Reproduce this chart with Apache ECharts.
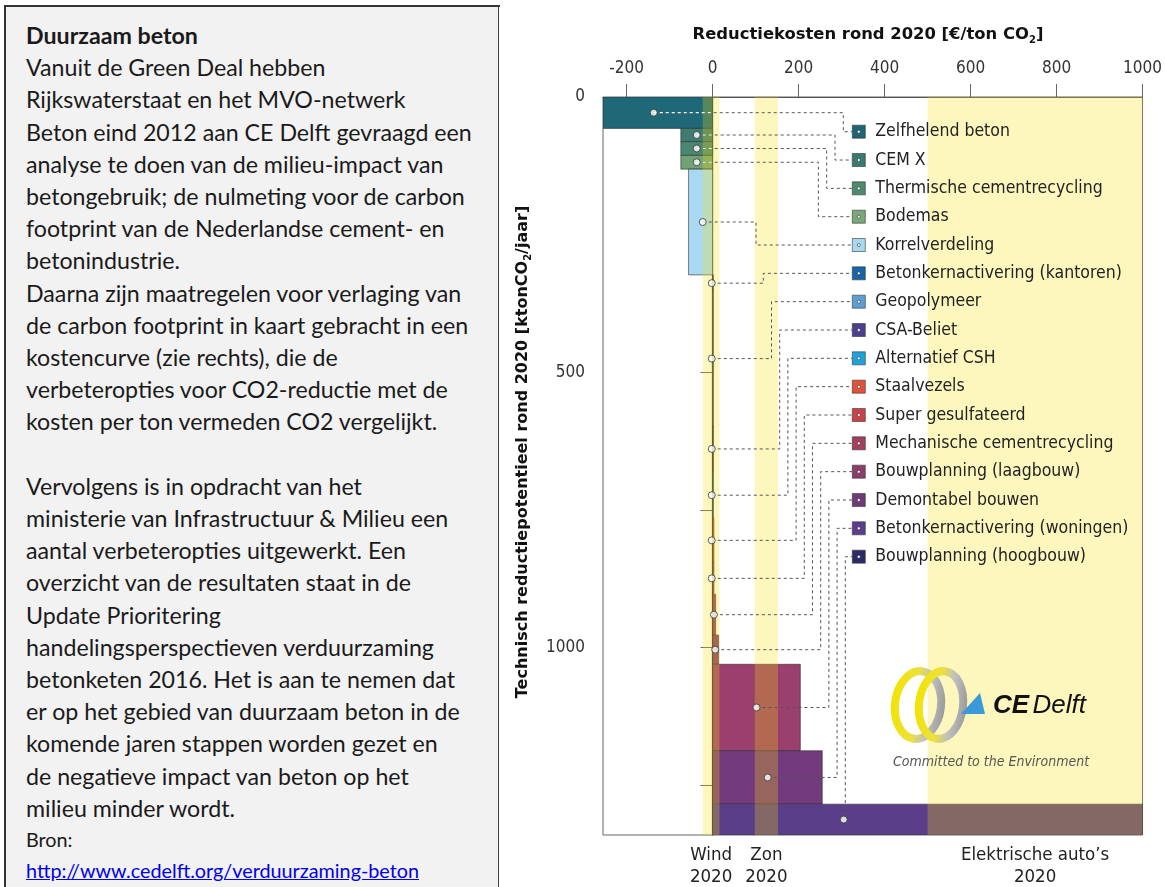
<!DOCTYPE html>
<html><head><meta charset="utf-8">
<script src="https://cdn.jsdelivr.net/npm/echarts@6/dist/echarts.min.js"></script>
<style>
html,body{margin:0;padding:0;width:1165px;height:887px;overflow:hidden;background:#fff;}
#topline{position:absolute;left:4px;top:5px;width:1161px;height:0;border-top:2px solid #333;}
#panel{position:absolute;left:4px;top:5px;width:495px;height:900px;background:#f2f2f2;border-left:2px solid #333;border-right:1px solid #444;border-top:2px solid #333;box-sizing:border-box;}
#text{position:absolute;left:20px;top:12px;font-family:Lato,'Open Sans',sans-serif;font-size:23.2px;line-height:32.2px;color:#1a1a1a;white-space:nowrap;}
#text b{font-weight:bold;}
#text .small{font-size:19.8px;line-height:31px;}
#text a{color:#0000ee;text-decoration:underline;}
#chart{position:absolute;left:500px;top:0;width:665px;height:887px;}
</style></head>
<body>
<div id="topline"></div>
<div id="panel"><div id="text">
<b>Duurzaam beton</b><br>
Vanuit de Green Deal hebben<br>
Rijkswaterstaat en het MVO-netwerk<br>
Beton eind 2012 aan CE Delft gevraagd een<br>
analyse te doen van de milieu-impact van<br>
betongebruik; de nulmeting voor de carbon<br>
footprint van de Nederlandse cement- en<br>
betonindustrie.<br>
Daarna zijn maatregelen voor verlaging van<br>
de carbon footprint in kaart gebracht in een<br>
kostencurve (zie rechts), die de<br>
verbeteropties voor CO2-reductie met de<br>
kosten per ton vermeden CO2 vergelijkt.<br>
<br>
Vervolgens is in opdracht van het<br>
ministerie van Infrastructuur &amp; Milieu een<br>
aantal verbeteropties uitgewerkt. Een<br>
overzicht van de resultaten staat in de<br>
Update Prioritering<br>
handelingsperspectieven verduurzaming<br>
betonketen 2016. Het is aan te nemen dat<br>
er op het gebied van duurzaam beton in de<br>
komende jaren stappen worden gezet en<br>
de negatieve impact van beton op het<br>
milieu minder wordt.<br>
<div class="small">Bron:<br><a href="http://www.cedelft.org/verduurzaming-beton">http://www.cedelft.org/verduurzaming-beton</a></div>
</div></div>
<div id="chart"></div>
<script>
// ---- data ----
const measures = ['Zelfhelend beton','CEM X','Thermische cementrecycling','Bodemas','Korrelverdeling','Betonkernactivering (kantoren)','Geopolymeer','CSA-Beliet','Alternatief CSH','Staalvezels','Super gesulfateerd','Mechanische cementrecycling','Bouwplanning (laagbouw)','Demontabel bouwen','Betonkernactivering (woningen)','Bouwplanning (hoogbouw)'];
const costs = [-255,-74,-74,-74,-56,1,2,2,2,3,3,7,14,204,255,1000];
const potentials = [57,24,25,25,192,30,244,84,84,80,58,74,53,157,97,56];
const markerCosts = [-137,-37,-37,-37,-23,-2,-2,-2,-2,-2,-2,3,6,102,128,305];
const bandLabels = ['Wind\n2020','Zon\n2020','Elektrische auto\u2019s\n2020'];
const bandFrom = [-23,98,500];
const bandTo = [16,152,1000];
const xTicks = [-200,0,200,400,600,800,1000];
const yTicks = [0,250,500,750,1000,1250];
const yLabels = [0,500,1000];

// ---- styles ----
const barColors = ['#1e6878','#3e7b70','#4b8672','#70a276','#a9d9f2','#1565a8','#5b9fd4','#4b3f8e','#1fa3dd','#e0533a','#c9424a','#a33f5c','#8c3d6c','#9a3f6e','#743a7e','#5a3e8a'];
const legendColors = ['#1d6475','#3a7a6e','#4d8a6e','#7aa87a','#a8d8f0','#1565a8','#5b9fd4','#4b3f8e','#1fa3dd','#e0533a','#c9424a','#a33f5c','#8c3d6c','#703a78','#5a3e8c','#2c2a66'];
const FONT = "'DejaVu Sans Condensed','DejaVu Sans',sans-serif";
const BOLD = "'DejaVu Sans',sans-serif";
const yMax = potentials.reduce((a,b)=>a+b,0);
const yStart = [], yEnd = [], yMid = [];
potentials.reduce((acc,p,i)=>{yStart[i]=acc; yEnd[i]=acc+p; yMid[i]=acc+p/2; return acc+p;},0);

const LEG_LEFT = 352, LEG_FIRST = 131.7, LEG_ROW = 28.33, LEG_ITEM = 13, LEG_FS = 17.5, LEG_LH = 18;
function legendRowY(i){ return LEG_FIRST + i*LEG_ROW; }
function elbowX(i){
  if (i < 4) return 343.3 - 8.3*i;
  if (i === 4) return 256;
  return 263.3 + 8.2*(i-5);
}

const chart = echarts.init(document.getElementById('chart'), null, {renderer:'canvas'});

const barSeries = measures.map((name,i)=>({
  type:'custom', name, z:2, clip:true,
  itemStyle:{color:legendColors[i]},
  encode:{x:0,y:[1,2]},
  data:[[costs[i], yStart[i], yEnd[i], i]],
  renderItem:(params,api)=>{
    const k = api.value(3);
    const p0 = api.coord([0, api.value(1)]);
    const p1 = api.coord([api.value(0), api.value(2)]);
    return {type:'rect',
      shape:{x:Math.min(p0[0],p1[0]), y:p0[1], width:Math.max(Math.abs(p1[0]-p0[0]),0.8), height:p1[1]-p0[1]},
      style:{fill:barColors[k], stroke:'rgba(40,40,40,0.7)', lineWidth:0.8}};
  }
}));

const bandSeries = {
  type:'custom', name:'bands', z:3, silent:true, clip:false,
  encode:{x:[0,1]},
  data: bandFrom.map((f,i)=>[f, bandTo[i], i]),
  renderItem:(params,api)=>{
    const k = api.value(2);
    const a = api.coord([api.value(0), 0]);
    const b = api.coord([api.value(1), yMax]);
    return {type:'group', children:[
      {type:'rect', shape:{x:a[0], y:a[1], width:b[0]-a[0], height:b[1]-a[1]},
       style:{fill:'rgba(250,226,0,0.26)'}},
      {type:'text', x:(a[0]+b[0])/2, y:b[1]+9,
       style:{text:bandLabels[k], fontSize:18.5, lineHeight:22, align:'center', verticalAlign:'top', fill:'#222', fontFamily:FONT}}
    ]};
  }
};

const connectorSeries = {
  type:'custom', name:'connectors', z:4, silent:true, clip:false,
  encode:{x:0,y:1},
  data: measures.map((m,i)=>[markerCosts[i], yMid[i], i]),
  renderItem:(params,api)=>{
    const k = api.value(2);
    const p = api.coord([api.value(0), api.value(1)]);
    const ex = elbowX(k), ry = legendRowY(k);
    const children = [{type:'polyline',
      shape:{points:[[p[0],p[1]],[ex,p[1]],[ex,ry],[LEG_LEFT,ry]]},
      style:{stroke:'#555', lineWidth:1, lineDash:[3,3], fill:null}}];
    if (costs[k] < 0 && k < 4) {
      const z0 = api.coord([0, api.value(1)]);
      children.push({type:'line', shape:{x1:p[0], y1:p[1], x2:z0[0], y2:p[1]},
        style:{stroke:'#ffffff', lineWidth:1.2, lineDash:[3,3]}});
    }
    return {type:'group', children};
  }
};

const dotSeries = {
  type:'scatter', name:'dots', z:6, silent:true,
  symbol:'circle', symbolSize:7,
  itemStyle:{color:'#ffffff', borderColor:'#333', borderWidth:1},
  data: measures.map((m,i)=>[markerCosts[i], yMid[i]])
};

const ringGrad = () => new echarts.graphic.LinearGradient(0,0,1,0,[{offset:0,color:'#f2e400'},{offset:0.45,color:'#ece040'},{offset:0.7,color:'#c0c0c0'},{offset:1,color:'#9a9a9a'}]);

chart.setOption({
  animation:false,
  backgroundColor:'#ffffff',
  grid:{left:103, right:21, top:97, bottom:52, show:true, borderColor:'#666', borderWidth:1, backgroundColor:'transparent'},
  xAxis:{type:'value', position:'top', min:-255, max:1000,
    axisLine:{show:true, lineStyle:{color:'#555', width:1.2}},
    axisTick:{show:true, customValues:xTicks, length:13, lineStyle:{color:'#666'}},
    axisLabel:{customValues:xTicks, fontSize:17, color:'#333', margin:20, fontFamily:FONT, formatter:v=>String(v)},
    splitLine:{show:false}},
  yAxis:{type:'value', inverse:true, min:0, max:yMax,
    axisLine:{show:true, lineStyle:{color:'#333', width:1.2}},
    axisTick:{show:true, customValues:yTicks, length:12, lineStyle:{color:'#666'}},
    axisLabel:{customValues:yLabels, fontSize:17, color:'#333', margin:18, fontFamily:FONT, formatter:v=>String(v)},
    splitLine:{show:false}},
  legend:{orient:'vertical', left:LEG_LEFT, top:LEG_FIRST-LEG_LH/2, padding:0, itemGap:LEG_ROW-LEG_LH,
    itemWidth:LEG_ITEM, itemHeight:LEG_ITEM, selectedMode:false,
    icon:'path://M0,0L12,0L12,12L0,12Z M6,4.6A1.4,1.4 0 1,0 6,7.4A1.4,1.4 0 1,0 6,4.6Z',
    itemStyle:{borderColor:'#333', borderWidth:0.6},
    textStyle:{fontSize:LEG_FS, lineHeight:LEG_LH, color:'#222', fontFamily:FONT, padding:[0,0,0,5]},
    data:measures},
  graphic:[
    {type:'text', x:368, y:35, z:10,
      style:{text:'{n|Reductiekosten rond 2020 [\u20ac/ton CO}{s|2}{n|]}', align:'center', verticalAlign:'middle',
        rich:{n:{fontSize:16.4, fontWeight:'bold', fontFamily:BOLD, fill:'#111', lineHeight:20},
              s:{fontSize:10, fontWeight:'bold', fontFamily:BOLD, fill:'#111', verticalAlign:'bottom', lineHeight:20}}}},
    {type:'text', x:23, y:452, rotation:Math.PI/2, z:10,
      style:{text:'{n|Technisch reductiepotentieel rond 2020 [ktonCO}{s|2}{n|/jaar]}', align:'center', verticalAlign:'middle',
        rich:{n:{fontSize:16, fontWeight:'bold', fontFamily:BOLD, fill:'#111', lineHeight:20},
              s:{fontSize:10, fontWeight:'bold', fontFamily:BOLD, fill:'#111', verticalAlign:'bottom', lineHeight:20}}}},
    {type:'ellipse', z:20, shape:{cx:418, cy:705, rx:23, ry:34}, rotation:-0.12, originX:418, originY:705,
      style:{fill:null, lineWidth:8, stroke:ringGrad()}},
    {type:'ellipse', z:20, shape:{cx:441, cy:705, rx:22, ry:34}, rotation:-0.12, originX:441, originY:705,
      style:{fill:null, lineWidth:8, stroke:ringGrad()}},
    {type:'polygon', z:20, shape:{points:[[461,714],[485,714],[480,693]]}, style:{fill:'#3a9ad9'}},
    {type:'text', z:20, x:493, y:706, style:{text:'{b|CE} {i|Delft}', verticalAlign:'middle',
      rich:{b:{fontSize:26, fontWeight:'bold', fontStyle:'italic', fontFamily:"'Liberation Sans',Arial,sans-serif", fill:'#111'},
            i:{fontSize:26, fontStyle:'italic', fontFamily:"'Liberation Sans',Arial,sans-serif", fill:'#111'}}}},
    {type:'text', z:20, x:393, y:762, style:{text:'Committed to the Environment', verticalAlign:'middle', fontSize:14, fontStyle:'italic', fontFamily:FONT, fill:'#555'}}
  ],
  series:[...barSeries, bandSeries, connectorSeries, dotSeries]
});
</script>
</body></html>
